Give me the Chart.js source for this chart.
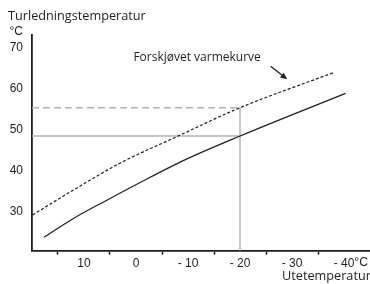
<!DOCTYPE html>
<html><head><meta charset="utf-8">
<script src="https://cdn.jsdelivr.net/npm/chart.js@4/dist/chart.umd.min.js"></script>
<style>html,body{margin:0;padding:0;background:#fff;}#wrap{width:370px;height:284px;position:relative;overflow:hidden}</style>
</head><body><div id="wrap"><canvas id="c" width="370" height="284"></canvas></div>
<script>
// ---- data ----
const outdoorTemps  = [17.7, 12.1, 5.6, -0.8, -9.4, -19.8, -40.3];
const heatCurve     = [23.9, 28.4, 32.9, 37.2, 42.7, 48.4, 58.9];
const shiftedTemps  = [19.9, 10.8, 3.1, -8.1, -19.8, -37.9];
const shiftedCurve  = [29.3, 36.3, 41.9, 48.5, 55.3, 63.9];
const xLabelValues  = [10, 0, -10, -20, -30, -40];
const xTickLabels   = ['10', '0', '- 10', '- 20', '- 30', '- 40'];
const xTickMarks    = [15, 5, -5, -15, -25, -35];
const yLabelValues  = [30, 40, 50, 60, 70];
const refOutdoor    = -20;
const refFlow       = 48.5;
const refFlowShifted = 55.4;
const xRange = [-45, 20];
const yRange = [20.6, 73.1];
const yTitle = 'Turledningstemperatur';
const xTitle = 'Utetemperatur';
const unitLabel = '°C';
const annotationText = 'Forskjøvet varmekurve';
const annotationAt = [0.5, 67.5];
const arrowFrom = [-25.9, 65.5];
const arrowTo   = [-29.1, 62.3];

const toXY = (xs, ys) => xs.map((v, i) => ({x: v, y: ys[i]}));
const INK = '#1e1e1e';
const GRAY = '#b4b4b4';
const TICK_FONT = {family: '"Liberation Sans", Arial, sans-serif', size: 12};
const TEXT_FONT = '12px "Open Sans", sans-serif';
const TITLE_FONT = '12.7px "Open Sans", sans-serif';

const decor = {
  id: 'decor',
  afterDraw(chart) {
    const {ctx, scales: {x, y}} = chart;
    ctx.save();
    ctx.fillStyle = INK;
    ctx.font = TITLE_FONT;
    ctx.textAlign = 'left';
    ctx.textBaseline = 'middle';
    ctx.fillText(yTitle, 8, 16);
    ctx.textBaseline = 'alphabetic';
    ctx.fillText(xTitle, 282, 280);
    ctx.font = TEXT_FONT;
    ctx.textBaseline = 'middle';
    ctx.fillText(annotationText, x.getPixelForValue(annotationAt[0]), y.getPixelForValue(annotationAt[1]));
    // unit on y axis
    ctx.font = '12px "Liberation Sans", Arial, sans-serif';
    ctx.textAlign = 'right';
    ctx.fillText(unitLabel, x.left - 9, 32);
    // unit after last x label
    const lastIdx = xLabelValues.length - 1;
    const w = ctx.measureText(xTickLabels[lastIdx]).width;
    ctx.textAlign = 'left';
    ctx.textBaseline = 'top';
    ctx.fillText(unitLabel, x.getPixelForValue(xLabelValues[lastIdx]) + w / 2, x.top + 4 + 2);
    // arrow
    const x1 = x.getPixelForValue(arrowFrom[0]), y1 = y.getPixelForValue(arrowFrom[1]);
    const x2 = x.getPixelForValue(arrowTo[0]), y2 = y.getPixelForValue(arrowTo[1]);
    const ang = Math.atan2(y2 - y1, x2 - x1);
    ctx.strokeStyle = INK; ctx.lineWidth = 1.2;
    ctx.beginPath(); ctx.moveTo(x1, y1);
    ctx.lineTo(x2 - 5 * Math.cos(ang), y2 - 5 * Math.sin(ang)); ctx.stroke();
    ctx.beginPath();
    ctx.moveTo(x2, y2);
    ctx.lineTo(x2 - 7 * Math.cos(ang) + 3 * Math.sin(ang), y2 - 7 * Math.sin(ang) - 3 * Math.cos(ang));
    ctx.lineTo(x2 - 7 * Math.cos(ang) - 3 * Math.sin(ang), y2 - 7 * Math.sin(ang) + 3 * Math.cos(ang));
    ctx.closePath(); ctx.fill();
    ctx.restore();
  }
};

new Chart(document.getElementById('c'), {
  type: 'line',
  data: {
    datasets: [
      {data: toXY(outdoorTemps, heatCurve), borderColor: INK, borderWidth: 1.2, pointRadius: 0, cubicInterpolationMode: 'monotone', order: 0},
      {data: toXY(shiftedTemps, shiftedCurve), borderColor: INK, borderWidth: 1.2, borderDash: [3, 2], pointRadius: 0, cubicInterpolationMode: 'monotone', order: 0},
      {data: toXY([xRange[1], refOutdoor], [refFlow, refFlow]), borderColor: GRAY, borderWidth: 1.5, pointRadius: 0, order: 1},
      {data: toXY([xRange[1], refOutdoor], [refFlowShifted, refFlowShifted]), borderColor: GRAY, borderWidth: 1.5, borderDash: [7, 4], pointRadius: 0, order: 1},
      {data: toXY([refOutdoor, refOutdoor], [yRange[0], refFlowShifted]), borderColor: GRAY, borderWidth: 1.5, pointRadius: 0, order: 1}
    ]
  },
  options: {
    responsive: false,
    animation: false,
    devicePixelRatio: 1,
    layout: {padding: {top: 35, left: 0, right: 0, bottom: 0}},
    plugins: {legend: {display: false}, tooltip: {enabled: false}, title: {display: false}},
    scales: {
      x: {
        type: 'linear', reverse: true, min: xRange[0], max: xRange[1],
        afterBuildTicks: s => { s.ticks = [...xTickMarks, ...xLabelValues].sort((a, b) => a - b).map(v => ({value: v})); },
        afterFit: s => { s.height = 33.3; },
        ticks: {
          autoSkip: false, maxRotation: 0, minRotation: 0, padding: 2, color: INK, font: TICK_FONT,
          callback: v => { const i = xLabelValues.indexOf(v); return i >= 0 ? xTickLabels[i] : ''; }
        },
        grid: {drawOnChartArea: false, drawTicks: true, tickLength: 4, tickWidth: 1.5,
          tickColor: c => (c.tick && xTickMarks.includes(c.tick.value)) ? INK : 'rgba(0,0,0,0)'},
        border: {display: true, color: INK, width: 1.8}
      },
      y: {
        type: 'linear', min: yRange[0], max: yRange[1],
        afterBuildTicks: s => { s.ticks = yLabelValues.map(v => ({value: v})); },
        afterFit: s => { s.width = 32; },
        ticks: {padding: 9, color: INK, font: TICK_FONT},
        grid: {drawOnChartArea: false, drawTicks: false},
        border: {display: true, color: INK, width: 1.8}
      }
    }
  },
  plugins: [decor]
});
</script>
</body></html>
